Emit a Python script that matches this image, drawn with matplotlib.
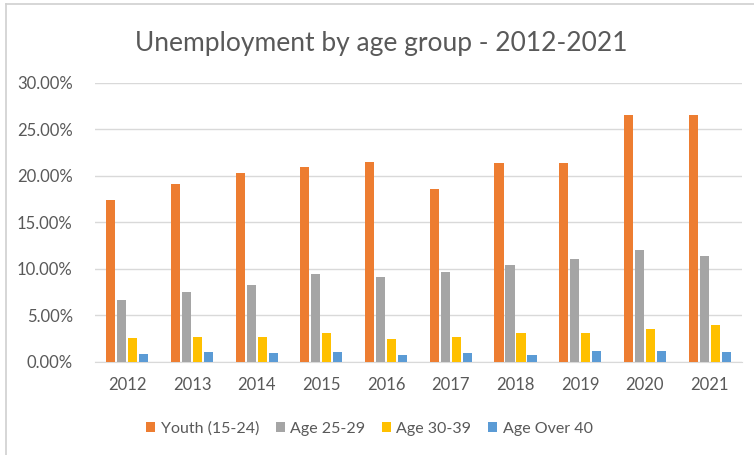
import numpy as np
import matplotlib.pyplot as plt
from matplotlib.ticker import PercentFormatter
from matplotlib.lines import Line2D

years = ['2012', '2013', '2014', '2015', '2016', '2017', '2018', '2019', '2020', '2021']
series_names = ['Youth (15-24)', 'Age 25-29', 'Age 30-39', 'Age Over 40']
youth = [17.4, 19.1, 20.3, 20.9, 21.5, 18.6, 21.4, 21.4, 26.5, 26.5]
age_25_29 = [6.6, 7.5, 8.3, 9.4, 9.1, 9.6, 10.4, 11.0, 12.0, 11.4]
age_30_39 = [2.5, 2.7, 2.7, 3.1, 2.4, 2.7, 3.1, 3.1, 3.5, 3.9]
age_over_40 = [0.8, 1.0, 0.9, 1.0, 0.75, 0.9, 0.75, 1.2, 1.1, 1.0]

colors = ['#ED7D31', '#A5A5A5', '#FFC000', '#5B9BD5']
text_color = '#595959'

plt.rcParams['font.family'] = ['Lato', 'DejaVu Sans']

fig = plt.figure(figsize=(7.54, 4.55), dpi=100)
ax = fig.add_axes([0.126, 0.205, 0.858, 0.613])

x = np.arange(len(years))
step = 0.17
width = 0.14
handles = []
for i, (vals, name, c) in enumerate(zip([youth, age_25_29, age_30_39, age_over_40],
                                        series_names, colors)):
    offs = (i - 1.5) * step
    b = ax.bar(x + offs, vals, width, color=c, label=name, zorder=3)
    handles.append(b)

ax.set_xlim(-0.5, len(years) - 0.5)
ax.set_ylim(0, 30)
ax.set_yticks(np.arange(0, 31, 5))
ax.yaxis.set_major_formatter(PercentFormatter(decimals=2))
ax.set_xticks(x)
ax.set_xticklabels(years)
ax.grid(axis='y', color='#D9D9D9', linewidth=1, zorder=0)
for s in ['top', 'right', 'left']:
    ax.spines[s].set_visible(False)
ax.spines['bottom'].set_color('#D9D9D9')
ax.tick_params(length=0, labelsize=12, colors=text_color)
ax.tick_params(axis='y', pad=16)
ax.tick_params(axis='x', pad=11)

# title is centred on the whole chart area, not the plot
fig.text(0.506, 0.905, 'Unemployment by age group - 2012-2021', fontsize=19,
         color=text_color, ha='center', va='center')

fig.legend(handles=handles, loc='center', bbox_to_anchor=(0.49, 0.058), ncol=4,
           frameon=False, fontsize=11.5, labelcolor=text_color,
           handlelength=0.55, handleheight=0.55, handletextpad=0.35,
           columnspacing=1.05)

# outer chart frame
fig.add_artist(Line2D([0.008, 0.008], [0, 0.991], color='#D0D0D0', lw=1.2,
                      transform=fig.transFigure))
fig.add_artist(Line2D([0.008, 1], [0.991, 0.991], color='#D0D0D0', lw=1.2,
                      transform=fig.transFigure))

fig.savefig('out.png', dpi=100)
